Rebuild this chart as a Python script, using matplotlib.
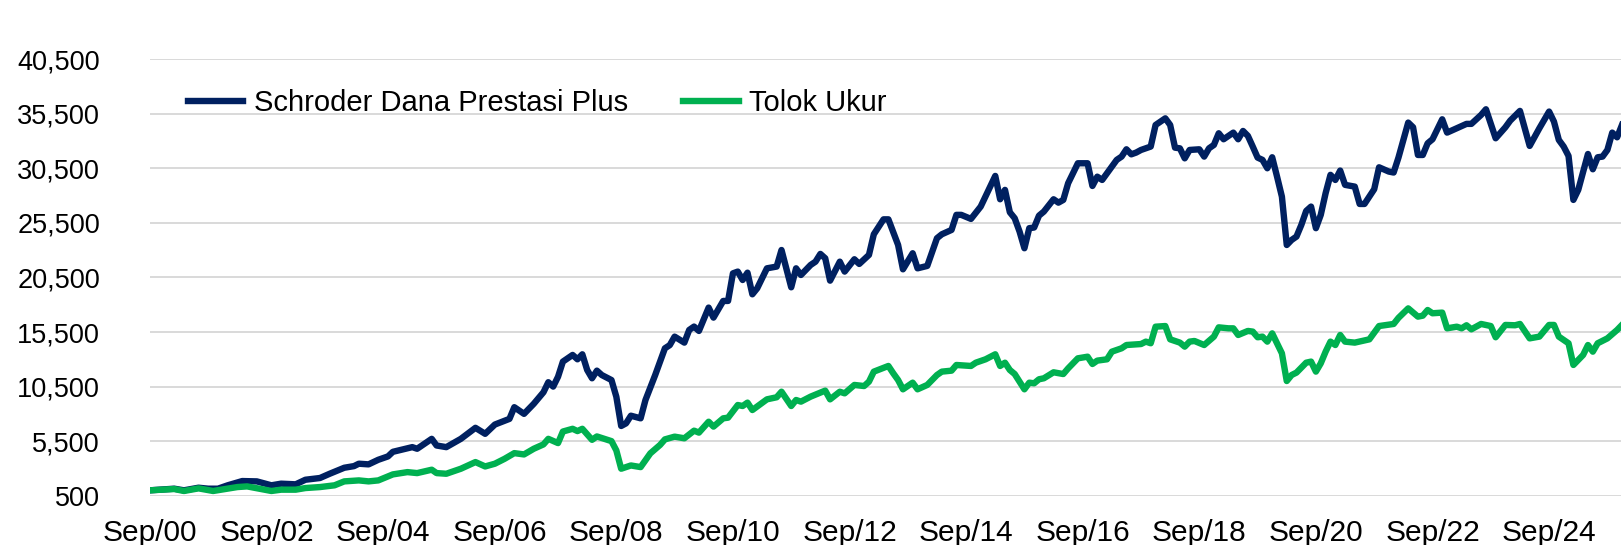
import matplotlib
matplotlib.use("Agg")
import matplotlib.pyplot as plt

plt.rcParams['font.family'] = ['Liberation Sans', 'DejaVu Sans']

# months counted from Sep 2000
fund_month = [0, 5, 7, 10, 12, 14, 16, 19, 22, 25, 27, 30, 32, 35, 37, 40, 42, 43, 45, 47,
              49, 50, 54, 55, 58, 59, 61, 64, 67, 69, 71, 74, 75, 77, 79, 81, 82, 83, 84, 85,
              87, 88, 89, 90, 91, 92, 93, 95, 96, 97, 98, 99, 101, 102, 104, 106, 107, 108, 110, 111,
              112, 113, 115, 116, 118, 119, 120, 121, 122, 123, 124, 125, 127, 129, 130, 132, 133, 134, 136, 137,
              138, 139, 140, 142, 143, 145, 146, 148, 149, 151, 152, 154, 155, 157, 158, 160, 162, 163, 165, 166,
              167, 169, 171, 174, 175, 176, 177, 178, 179, 180, 181, 182, 183, 184, 186, 187, 188, 189, 191, 193,
              194, 195, 196, 198, 199, 200, 201, 202, 203, 204, 206, 207, 209, 210, 211, 212, 213, 214, 216, 217,
              218, 219, 220, 221, 223, 224, 225, 226, 227, 228, 229, 230, 231, 232, 233, 234, 235, 236, 237, 238,
              239, 240, 241, 242, 243, 244, 245, 246, 248, 249, 250, 252, 253, 255, 256, 257, 259, 260, 261, 262,
              263, 264, 266, 267, 269, 271, 272, 274, 275, 277, 279, 280, 282, 284, 286, 288, 289, 290, 291, 292,
              293, 294, 296, 297, 298, 299, 300, 301, 302, 303]
fund_value = [990, 1140, 990, 1230, 1140, 1140, 1450, 1840, 1810, 1450, 1600, 1540, 1960, 2120, 2510, 3060, 3210, 3430, 3370, 3790,
              4100, 4520, 4950, 4800, 5710, 5100, 4950, 5710, 6720, 6170, 7020, 7540, 8610, 8000, 8920, 9980, 10900, 10500, 11400, 12790,
              13400, 13000, 13460, 12020, 11260, 11960, 11560, 11100, 9570, 6890, 7130, 7830, 7590, 9270, 11560, 14010, 14300, 15080, 14530, 15690,
              16000, 15600, 17740, 16820, 18350, 18350, 20880, 21040, 20270, 20940, 18960, 19510, 21340, 21500, 23020, 19600, 21340, 20730, 21650, 21950,
              22660, 22260, 20210, 21950, 21040, 22170, 21740, 22570, 24460, 25830, 25830, 23480, 21250, 22720, 21340, 21560, 24100, 24460, 24860, 26240,
              26240, 25870, 27000, 29810, 27670, 28530, 26480, 25930, 24710, 23180, 25020, 25080, 26170, 26540, 27670, 27360, 27610, 29140, 30970, 30970,
              28890, 29740, 29440, 30660, 31280, 31580, 32250, 31790, 31950, 32190, 32500, 34480, 35090, 34480, 32400, 32340, 31420, 32190, 32250, 31580,
              32340, 32650, 33720, 33170, 33780, 33170, 33930, 33480, 32500, 31490, 31280, 30510, 31520, 29750, 27910, 23480, 23940, 24250, 25320, 26600,
              27000, 25020, 26240, 28230, 29910, 29440, 30300, 28990, 28830, 27240, 27240, 28590, 30600, 30210, 30120, 31500, 34700, 34270, 31730, 31730,
              32800, 33170, 35000, 33780, 34180, 34580, 34580, 35400, 35920, 33260, 34270, 34880, 35770, 32560, 34180, 35710, 34790, 33110, 32500, 31640,
              27610, 28530, 31820, 30420, 31520, 31580, 32190, 33780, 33350, 34480]

bench_month = [0, 5, 7, 10, 13, 18, 20, 25, 27, 30, 32, 35, 38, 40, 43, 45, 47, 50, 53, 55,
               58, 59, 61, 64, 67, 69, 71, 73, 75, 77, 79, 81, 82, 84, 85, 87, 88, 89, 91, 92,
               95, 96, 97, 99, 101, 103, 105, 106, 108, 110, 112, 113, 115, 116, 118, 119, 121, 122, 123, 124,
               127, 129, 130, 132, 133, 134, 136, 139, 140, 142, 143, 145, 147, 148, 149, 152, 153, 154, 155, 157,
               158, 160, 162, 163, 165, 166, 169, 170, 172, 174, 175, 176, 177, 178, 180, 181, 182, 183, 184, 186,
               188, 189, 191, 193, 194, 195, 197, 198, 200, 201, 204, 205, 206, 207, 209, 210, 212, 213, 214, 215,
               217, 219, 220, 222, 223, 224, 226, 227, 228, 229, 230, 231, 233, 234, 235, 236, 238, 239, 240, 241,
               242, 243, 244, 245, 246, 248, 251, 252, 253, 256, 257, 259, 261, 262, 263, 264, 266, 267, 269, 270,
               271, 272, 274, 276, 277, 279, 281, 282, 284, 286, 288, 289, 290, 292, 293, 295, 296, 297, 298, 300,
               302, 303]
bench_value = [990, 1110, 930, 1170, 930, 1290, 1350, 930, 1050, 1050, 1200, 1290, 1450, 1810, 1900, 1810, 1900, 2450, 2660, 2570,
               2880, 2570, 2510, 2970, 3580, 3180, 3430, 3880, 4400, 4280, 4800, 5200, 5710, 5320, 6380, 6630, 6420, 6630, 5620, 5930,
               5500, 4650, 2970, 3270, 3120, 4380, 5150, 5660, 5910, 5760, 6460, 6280, 7280, 6830, 7590, 7650, 8810, 8720, 9030, 8350,
               9330, 9520, 10030, 8720, 9270, 9120, 9580, 10130, 9330, 10030, 9880, 10650, 10550, 10950, 11870, 12390, 11720, 11100, 10250, 10860,
               10250, 10650, 11560, 11870, 11960, 12480, 12390, 12690, 13000, 13460, 12390, 12690, 12020, 11650, 10250, 10860, 10800, 11170, 11260, 11810,
               11650, 12170, 13090, 13240, 12570, 12880, 13000, 13700, 14010, 14310, 14400, 14620, 14470, 15990, 16050, 14830, 14530, 14160, 14620, 14680,
               14310, 15080, 15930, 15840, 15840, 15230, 15600, 15540, 15020, 15080, 14620, 15380, 13550, 11010, 11560, 11780, 12690, 12790, 11870, 12630,
               13700, 14620, 14310, 15230, 14620, 14530, 14830, 15440, 16050, 16240, 16800, 17670, 16910, 17000, 17520, 17220, 17280, 15840, 15990, 15840,
               16120, 15750, 16240, 16050, 15020, 16150, 16120, 16240, 14920, 15080, 16150, 16150, 15080, 14470, 12480, 13400, 14310, 13700, 14470, 14920,
               15690, 16150]

tick_months = [0, 24, 48, 72, 96, 120, 144, 168, 192, 216, 240, 264, 288]
tick_labels = ['Sep/00', 'Sep/02', 'Sep/04', 'Sep/06', 'Sep/08', 'Sep/10', 'Sep/12',
               'Sep/14', 'Sep/16', 'Sep/18', 'Sep/20', 'Sep/22', 'Sep/24']
y_ticks = [500, 5500, 10500, 15500, 20500, 25500, 30500, 35500, 40500]

fig = plt.figure(figsize=(16.21, 5.45), dpi=100)
ax = fig.add_axes([0.0925, 0.0905, 0.9075, 0.8007])

ax.plot(fund_month, fund_value, color='#002060', lw=4.6, label='Schroder Dana Prestasi Plus',
        solid_joinstyle='round', zorder=3)
ax.plot(bench_month, bench_value, color='#00B050', lw=4.6, label='Tolok Ukur',
        solid_joinstyle='round', zorder=3)

ax.set_xlim(0, 302.8)
ax.set_ylim(500, 40500)
ax.set_yticks(y_ticks)
ax.set_yticklabels(['{:,}'.format(v) for v in y_ticks])
ax.set_xticks(tick_months)
ax.set_xticklabels(tick_labels)
ax.tick_params(axis='y', length=0, pad=36, labelsize=19.5)
ax.tick_params(axis='x', length=0, pad=17, labelsize=21.5)
ax.grid(axis='y', color='#D9D9D9', lw=1.4, zorder=0)
for s in ax.spines.values():
    s.set_visible(False)

ax.legend(loc='center left', bbox_to_anchor=(188 / 1621, 1 - 103 / 545),
          bbox_transform=fig.transFigure, ncol=2, frameon=False, fontsize=21,
          handlelength=1.9, handletextpad=0.36, columnspacing=1.9,
          borderpad=0, borderaxespad=0)

fig.savefig('out.png', dpi=100)
